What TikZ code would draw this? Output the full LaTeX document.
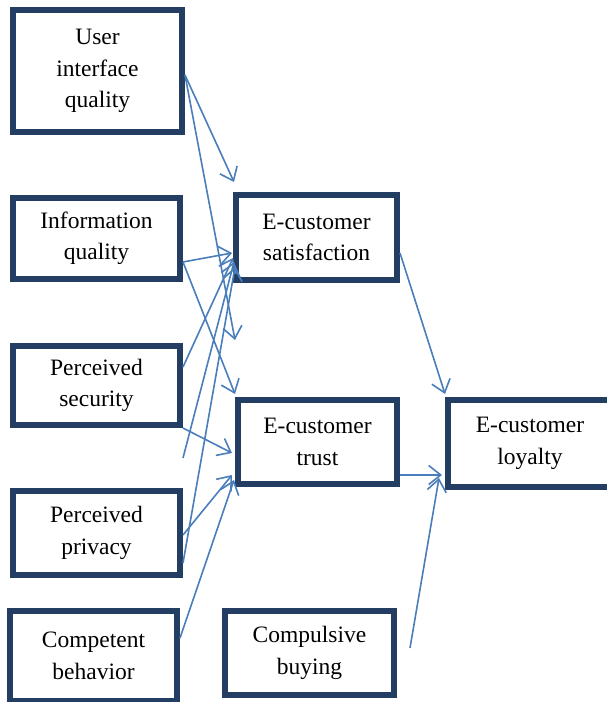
\documentclass[tikz,border=0pt]{standalone}
\usepackage{fontspec}
\setmainfont{Liberation Serif}
\usetikzlibrary{calc,arrows.meta}
\definecolor{boxnavy}{RGB}{35,62,98}
\definecolor{arrowblue}{RGB}{74,126,187}
\begin{document}
\begin{tikzpicture}[x=1pt, y=-1pt, every node/.style={font=\fontsize{23.5}{31.5}\selectfont},
	box/.style={draw=boxnavy, line width=6pt, fill=white, align=center, inner sep=0pt},
	arr/.style={draw=arrowblue, line width=1.6pt, -{Straight Barb[length=12pt, width=19pt, line width=1.6pt]}}]
	\useasboundingbox (0,0) rectangle (606,702);
	\node[box, minimum width=169, minimum height=122] (UI) at (97.5,71) {User\\interface\\quality};
	\node[box, minimum width=167, minimum height=81] (IQ) at (96.5,238.5) {Information\\quality};
	\node[box, minimum width=167, minimum height=79] (PS) at (96.5,385.5) {Perceived\\security};
	\node[box, minimum width=167, minimum height=84] (PP) at (96.5,533) {Perceived\\privacy};
	\node[box, minimum width=167, minimum height=90] (CB) at (93.5,656) {Competent\\behavior};
	\node[box, minimum width=161, minimum height=85] (S) at (316.5,237.5) {E-customer\\satisfaction};
	\node[box, minimum width=159, minimum height=84] (T) at (317.5,442) {E-customer\\trust};
	\node[box, minimum width=164, minimum height=87] (L) at (530,443.5) {E-customer\\loyalty};
	\node[box, minimum width=169, minimum height=84] (CO) at (309.5,653) {Compulsive\\buying};
	% into satisfaction
	\draw[arr] ($(UI.east)+(0,4)$) -- ($(S.north west)+(1,-10)$);
	\draw[arr] ($(UI.east)+(0,4)$) -- ($(S.south west)+(2,57)$);
	\draw[arr] ($(IQ.east)+(0,23.5)$) -- ($(S.west)+(-1,15.5)$);
	\draw[arr] ($(PS.east)+(0,-18.5)$) -- ($(S.west)+(0,20.5)$);
	\draw[arr] ($(PS.south east)+(0,30)$) -- ($(S.west)+(1,24.5)$);
	\draw[arr] ($(PP.east)+(0,30)$) -- ($(S.west)+(2,29.5)$);
	% into trust
	\draw[arr] ($(IQ.east)+(0,23.5)$) -- ($(T.north west)+(0,-3)$);
	\draw[arr] ($(PS.south east)+(0,0)$) -- ($(T.west)+(-3,11)$);
	\draw[arr] ($(PP.east)+(0,2)$) -- ($(T.west)+(-3,33)$);
	\draw[arr] ($(CB.east)+(0,-18)$) -- ($(T.west)+(-1,38)$);
	% into loyalty
	\draw[arr] ($(S.east)+(0,15.5)$) -- ($(L.north west)+(0,-3)$);
	\draw[arr] ($(T.east)+(0,33)$) -- ($(L.west)+(-3,31.5)$);
	\draw[arr] ($(CO.east)+(13,-5)$) -- ($(L.west)+(-6,34.5)$);
\end{tikzpicture}
\end{document}
